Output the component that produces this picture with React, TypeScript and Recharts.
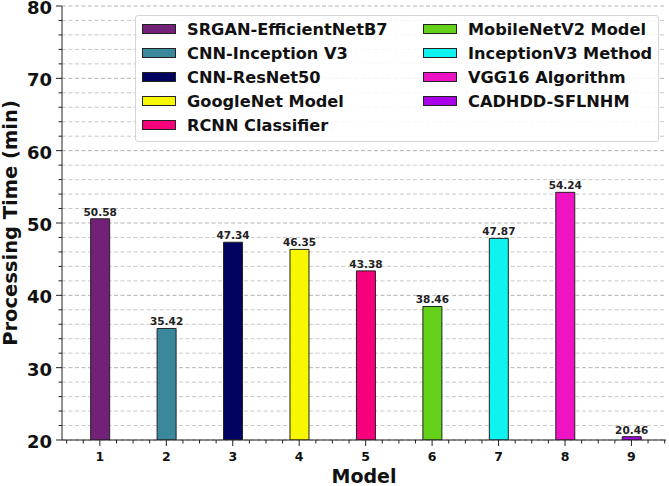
import { BarChart, Bar, XAxis, YAxis, CartesianGrid, Cell, LabelList, Legend } from 'recharts';

const models = [1, 2, 3, 4, 5, 6, 7, 8, 9];
const methodNames = [
  'SRGAN-EfficientNetB7',
  'CNN-Inception V3',
  'CNN-ResNet50',
  'GoogleNet Model',
  'RCNN Classifier',
  'MobileNetV2 Model',
  'InceptionV3 Method',
  'VGG16 Algorithm',
  'CADHDD-SFLNHM',
];
const processingTime = [50.58, 35.42, 47.34, 46.35, 43.38, 38.46, 47.87, 54.24, 20.46];
const barColors = [
  '#732079',
  '#3a889c',
  '#020260',
  '#f7f700',
  '#f6007b',
  '#62d117',
  '#0ef2f0',
  '#f013c3',
  '#a900ea',
];
const yTicks = [20, 22, 24, 26, 28, 30, 32, 34, 36, 38, 40, 42, 44, 46, 48, 50, 52, 54, 56, 58, 60, 62, 64, 66, 68, 70, 72, 74, 76, 78, 80];
const xTicks = [
  0.5, 0.75, 1, 1.25, 1.5, 1.75, 2, 2.25, 2.5, 2.75, 3, 3.25, 3.5, 3.75, 4, 4.25, 4.5, 4.75, 5,
  5.25, 5.5, 5.75, 6, 6.25, 6.5, 6.75, 7, 7.25, 7.5, 7.75, 8, 8.25, 8.5, 8.75, 9, 9.25, 9.5,
];
const xDomain = [0.43, 9.52];
const yDomain = [20, 80];

const FONT = '"DejaVu Sans", sans-serif';
const INK = '#222';

const chartData = models.map((m, i) => ({
  model: m,
  name: methodNames[i],
  value: processingTime[i],
}));

function YTick(props: any) {
  const { x, y, payload } = props;
  const major = payload.value % 10 === 0;
  return (
    <g>
      <line x1={x} x2={x - (major ? 6 : 3.5)} y1={y} y2={y} stroke={INK} strokeWidth={1} />
      {major && (
        <text
          x={x - 10}
          y={y + 1.5}
          textAnchor="end"
          dominantBaseline="central"
          fontFamily={FONT}
          fontWeight="bold"
          fontSize={18}
          fill="#111"
        >
          {payload.value}
        </text>
      )}
    </g>
  );
}

function XTick(props: any) {
  const { x, y, payload } = props;
  const major = Number.isInteger(payload.value);
  return (
    <g>
      <line x1={x} x2={x} y1={y} y2={y + (major ? 6 : 3.5)} stroke={INK} strokeWidth={1} />
      {major && (
        <text
          x={x}
          y={y + 16}
          textAnchor="middle"
          dominantBaseline="central"
          fontFamily={FONT}
          fontWeight="bold"
          fontSize={12.5}
          fill="#111"
        >
          {payload.value}
        </text>
      )}
    </g>
  );
}

function LegendBox() {
  return (
    <div
      style={{
        boxSizing: 'border-box',
        width: 524,
        height: 127,
        padding: '1px 0 4px 6px',
        border: '1px solid #d6d6d6',
        borderRadius: 3,
        background: 'rgba(255,255,255,0.85)',
        display: 'grid',
        gridTemplateRows: 'repeat(5, 24px)',
        gridTemplateColumns: '281px 1fr',
        gridAutoFlow: 'column',
        fontFamily: FONT,
        fontWeight: 'bold',
        fontSize: 16.2,
        color: '#111',
      }}
    >
      {methodNames.map((name, i) => (
        <div key={name} style={{ display: 'flex', alignItems: 'center', gap: 11, whiteSpace: 'nowrap' }}>
          <span
            style={{
              boxSizing: 'border-box',
              width: 34,
              height: 10,
              border: '1px solid #222',
              background: barColors[i],
              flex: 'none',
            }}
          />
          <span>{name}</span>
        </div>
      ))}
    </div>
  );
}

export default function App() {
  return (
    <div style={{ position: 'absolute', left: 0, top: 0, background: '#fff' }}>
      <BarChart
        width={669}
        height={486}
        data={chartData}
        margin={{ top: 6, right: 3, left: 0, bottom: 0 }}
      >
        <CartesianGrid
          vertical={false}
          horizontal={(p: any) => (
            <line
              key={p.key}
              x1={p.x1}
              x2={p.x2}
              y1={p.y1}
              y2={p.y2}
              stroke={p.index % 5 === 0 ? '#b4b4b4' : '#c8c8c8'}
              strokeWidth={1}
              strokeDasharray="4 2.5"
            />
          )}
        />
        <XAxis
          dataKey="model"
          type="number"
          domain={xDomain}
          ticks={xTicks}
          interval={0}
          allowDataOverflow
          height={46}
          tickSize={0}
          tickMargin={0}
          tickLine={false}
          axisLine={{ stroke: INK, strokeWidth: 1 }}
          tick={XTick}
          label={(p: any) => {
            const vb = p.viewBox;
            return (
              <text
                x={vb.x + vb.width / 2}
                y={vb.y + 43}
                textAnchor="middle"
                fontFamily={FONT}
                fontWeight="bold"
                fontSize={19}
                fill="#111"
              >
                Model
              </text>
            );
          }}
        />
        <XAxis
          xAxisId="top"
          orientation="top"
          type="number"
          domain={xDomain}
          allowDataOverflow
          height={0}
          tick={false}
          tickLine={false}
          axisLine={{ stroke: INK, strokeWidth: 1 }}
        />
        <YAxis
          type="number"
          domain={yDomain}
          ticks={yTicks}
          interval={0}
          allowDataOverflow
          width={62}
          tickSize={0}
          tickMargin={0}
          tickLine={false}
          axisLine={{ stroke: INK, strokeWidth: 1 }}
          tick={YTick}
          label={(p: any) => {
            const vb = p.viewBox;
            const cx = vb.x + 17;
            const cy = vb.y + vb.height / 2;
            return (
              <text
                x={cx}
                y={cy}
                transform={`rotate(-90 ${cx} ${cy})`}
                textAnchor="middle"
                fontFamily={FONT}
                fontWeight="bold"
                fontSize={19.5}
                fill="#111"
              >
                Processing Time (min)
              </text>
            );
          }}
        />
        <YAxis
          yAxisId="right"
          orientation="right"
          type="number"
          domain={yDomain}
          width={0}
          tick={false}
          tickLine={false}
          axisLine={{ stroke: INK, strokeWidth: 1 }}
        />
        <Legend
          layout="vertical"
          align="center"
          verticalAlign="middle"
          wrapperStyle={{ top: 15, left: 135, width: 524, height: 127 }}
          content={() => <LegendBox />}
        />
        <Bar dataKey="value" barSize={19} stroke={INK} strokeWidth={1} isAnimationActive={false}>
          {chartData.map((d, i) => (
            <Cell key={d.name} fill={barColors[i]} />
          ))}
          <LabelList
            dataKey="value"
            position="top"
            offset={3}
            formatter={(v: any) => Number(v).toFixed(2)}
            style={{ fontFamily: FONT, fontWeight: 'bold', fontSize: 10.5, fill: INK }}
          />
        </Bar>
      </BarChart>
    </div>
  );
}
